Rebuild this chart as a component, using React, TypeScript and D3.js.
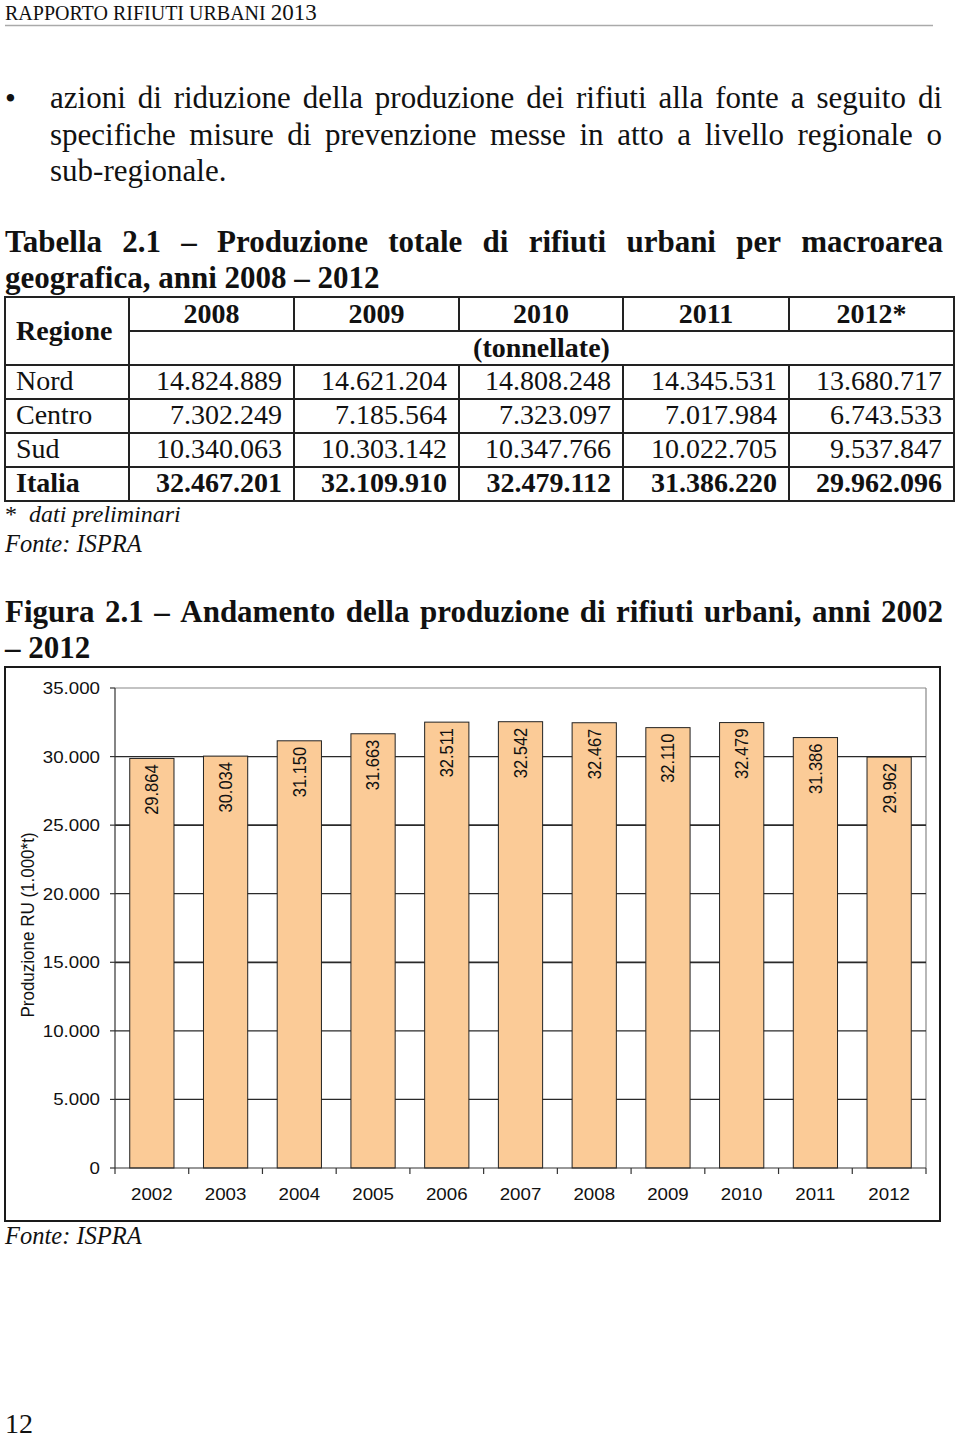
import React, { useEffect, useRef } from "react";
import * as d3 from "d3";

// ---- chart data ----
const years = ["2002", "2003", "2004", "2005", "2006", "2007", "2008", "2009", "2010", "2011", "2012"];
const production = [29864, 30034, 31150, 31663, 32511, 32542, 32467, 32110, 32479, 31386, 29962];
const yTicks = [0, 5000, 10000, 15000, 20000, 25000, 30000, 35000];

// ---- table data ----
const tableYears = ["2008", "2009", "2010", "2011", "2012*"];
const regions = ["Nord", "Centro", "Sud", "Italia"];
const nord = [14824889, 14621204, 14808248, 14345531, 13680717];
const centro = [7302249, 7185564, 7323097, 7017984, 6743533];
const sud = [10340063, 10303142, 10347766, 10022705, 9537847];
const italia = [32467201, 32109910, 32479112, 31386220, 29962096];

const bulletLines = [
  "azioni di riduzione della produzione dei rifiuti alla fonte a seguito di",
  "specifiche misure di prevenzione messe in atto a livello regionale o",
];
const bulletLast = "sub-regionale.";
const tableTitle1 = "Tabella 2.1 – Produzione totale di rifiuti urbani per macroarea";
const tableTitle2 = "geografica, anni 2008 – 2012";
const figTitle1 = "Figura 2.1 – Andamento della produzione di rifiuti urbani, anni 2002";
const figTitle2 = "– 2012";

const it = d3.formatLocale({ decimal: ",", thousands: ".", grouping: [3], currency: ["", "€"] });
const fmt = it.format(",d");

const SERIF = "'Liberation Serif', 'Times New Roman', serif";
const SANS = "'Liberation Sans', Arial, sans-serif";
const BODY = 31;

export default function App() {
  const ref = useRef<SVGSVGElement | null>(null);

  useEffect(() => {
    const svg = d3.select(ref.current);
    svg.selectAll("*").remove();

    // ---------- page header ----------
    const hdr = svg.append("text").attr("x", 5).attr("y", 20).attr("font-family", SERIF).attr("fill", "#111");
    hdr.append("tspan").attr("font-size", 20).text("RAPPORTO RIFIUTI URBANI ");
    hdr.append("tspan").attr("font-size", 23).text("2013");
    svg.append("line").attr("x1", 5).attr("x2", 933).attr("y1", 25.5).attr("y2", 25.5)
      .attr("stroke", "#aaa").attr("stroke-width", 1.5);

    // justified line helper
    const justify = (line: string, x0: number, x1: number, yb: number, size: number, weight: string) => {
      const words = line.split(" ");
      const g = svg.append("g").attr("font-family", SERIF).attr("font-size", size)
        .attr("font-weight", weight).attr("fill", "#111");
      const nodes = words.map((w) => g.append("text").attr("y", yb).text(w));
      const widths = nodes.map((n) => (n.node() as SVGTextElement).getComputedTextLength());
      const total = d3.sum(widths);
      const gap = words.length > 1 ? (x1 - x0 - total) / (words.length - 1) : 0;
      let cx = x0;
      nodes.forEach((n, i) => {
        n.attr("x", cx);
        cx += widths[i] + gap;
      });
    };
    const plain = (x: number, yb: number, s: string, size: number, weight = "normal", style = "normal") =>
      svg.append("text").attr("x", x).attr("y", yb).attr("font-family", SERIF).attr("font-size", size)
        .attr("font-weight", weight).attr("font-style", style).attr("fill", "#111").text(s);

    // ---------- bullet ----------
    plain(5, 109, "•", BODY);
    justify(bulletLines[0], 50, 942, 108, BODY, "normal");
    justify(bulletLines[1], 50, 942, 145, BODY, "normal");
    plain(50, 181, bulletLast, BODY);

    // ---------- table title ----------
    justify(tableTitle1, 5, 943, 252, BODY, "bold");
    plain(5, 288, tableTitle2, BODY, "bold");

    // ---------- table ----------
    const colX = [5, 129, 294, 459, 623, 789, 954];
    const rowY = [297, 331, 365, 399, 433, 467, 501];
    const tg = svg.append("g");
    const ls = "#222";
    const lw = 2;
    tg.append("rect").attr("x", colX[0]).attr("y", rowY[0]).attr("width", colX[6] - colX[0])
      .attr("height", rowY[6] - rowY[0]).attr("fill", "none").attr("stroke", ls).attr("stroke-width", lw);
    tg.append("line").attr("x1", colX[1]).attr("x2", colX[6]).attr("y1", rowY[1]).attr("y2", rowY[1])
      .attr("stroke", ls).attr("stroke-width", lw);
    [2, 3, 4, 5].forEach((r) => {
      tg.append("line").attr("x1", colX[0]).attr("x2", colX[6]).attr("y1", rowY[r]).attr("y2", rowY[r])
        .attr("stroke", ls).attr("stroke-width", lw);
    });
    tg.append("line").attr("x1", colX[1]).attr("x2", colX[1]).attr("y1", rowY[0]).attr("y2", rowY[6])
      .attr("stroke", ls).attr("stroke-width", lw);
    [2, 3, 4, 5].forEach((c) => {
      tg.append("line").attr("x1", colX[c]).attr("x2", colX[c]).attr("y1", rowY[0]).attr("y2", rowY[1])
        .attr("stroke", ls).attr("stroke-width", lw);
      tg.append("line").attr("x1", colX[c]).attr("x2", colX[c]).attr("y1", rowY[2]).attr("y2", rowY[6])
        .attr("stroke", ls).attr("stroke-width", lw);
    });
    const tt = (x: number, y: number, s: string, anchor: string, bold: boolean) =>
      tg.append("text").attr("x", x).attr("y", y).attr("text-anchor", anchor)
        .attr("font-family", SERIF).attr("font-size", 28).attr("font-weight", bold ? "bold" : "normal")
        .attr("fill", "#111").text(s);
    tt(16, 340, "Regione", "start", true);
    tableYears.forEach((y, i) => tt((colX[i + 1] + colX[i + 2]) / 2, 323, y, "middle", true));
    tt((colX[1] + colX[6]) / 2, 357, "(tonnellate)", "middle", true);
    const rows = [nord, centro, sud, italia];
    rows.forEach((vals, r) => {
      const bold = r === 3;
      const yb = rowY[r + 2] + 25;
      tt(16, yb, regions[r], "start", bold);
      vals.forEach((v, c) => tt(colX[c + 2] - 12, yb, fmt(v), "end", bold));
    });
    const star = plain(5, 522, "*", 24);
    star.append("tspan").attr("dx", 12).attr("font-style", "italic").text("dati preliminari");
    plain(5, 552, "Fonte: ISPRA", 24.5, "normal", "italic");

    // ---------- figure title ----------
    justify(figTitle1, 5, 943, 622, BODY, "bold");
    plain(5, 658, figTitle2, BODY, "bold");

    // ---------- chart ----------
    const cg = svg.append("g");
    cg.append("rect").attr("x", 5).attr("y", 667).attr("width", 935).attr("height", 554)
      .attr("fill", "#fff").attr("stroke", "#1a1a1a").attr("stroke-width", 2);

    const left = 115, right = 926, top = 688, bottom = 1168;
    const x = d3.scaleBand<string>().domain(years).range([left, right]).paddingInner(0.4).paddingOuter(0.2);
    const y = d3.scaleLinear().domain([0, 35000]).range([bottom, top]);
    const step = x.step();
    const sx = 1.17;

    // plot border (right gray)
    cg.append("line").attr("x1", right).attr("x2", right).attr("y1", top).attr("y2", bottom)
      .attr("stroke", "#888").attr("stroke-width", 1.2);
    // gridlines
    yTicks.filter((t) => t > 0).forEach((t) => {
      cg.append("line").attr("x1", left).attr("x2", right).attr("y1", y(t)).attr("y2", y(t))
        .attr("stroke", t === 35000 ? "#888" : "#2a2a2a").attr("stroke-width", t === 25000 || t === 15000 ? 1.8 : 1.2);
    });
    // y ticks and labels
    yTicks.forEach((t) => {
      cg.append("line").attr("x1", left - 5).attr("x2", left).attr("y1", y(t)).attr("y2", y(t))
        .attr("stroke", "#333").attr("stroke-width", 1.2);
      cg.append("text").attr("transform", `translate(100,${y(t) + 6}) scale(${sx},1)`)
        .attr("text-anchor", "end").attr("font-family", SANS).attr("font-size", 16).attr("fill", "#111")
        .text(t === 0 ? "0" : fmt(t));
    });
    // bars
    years.forEach((yr, i) => {
      const v = production[i];
      cg.append("rect").attr("x", x(yr)!).attr("y", y(v)).attr("width", x.bandwidth())
        .attr("height", y(0) - y(v)).attr("fill", "#FBCB97").attr("stroke", "#222").attr("stroke-width", 1);
      cg.append("text")
        .attr("transform", `translate(${x(yr)! + x.bandwidth() / 2},${y(v) + 6}) scale(1.08,1) rotate(-90)`)
        .attr("text-anchor", "end").attr("dy", "0.36em").attr("font-family", SANS).attr("font-size", 16.5)
        .attr("fill", "#111").text(fmt(v));
      cg.append("text").attr("transform", `translate(${x(yr)! + x.bandwidth() / 2},1200) scale(${sx},1)`)
        .attr("text-anchor", "middle").attr("font-family", SANS).attr("font-size", 16).attr("fill", "#111")
        .text(yr);
    });
    // axes
    cg.append("line").attr("x1", left).attr("x2", left).attr("y1", top).attr("y2", bottom)
      .attr("stroke", "#333").attr("stroke-width", 1.2);
    cg.append("line").attr("x1", left).attr("x2", right).attr("y1", bottom).attr("y2", bottom)
      .attr("stroke", "#333").attr("stroke-width", 1.2);
    d3.range(years.length + 1).forEach((k) => {
      const tx = left + k * step;
      cg.append("line").attr("x1", tx).attr("x2", tx).attr("y1", bottom).attr("y2", bottom + 6)
        .attr("stroke", "#333").attr("stroke-width", 1.2);
    });
    // y title
    cg.append("text").attr("transform", `translate(27,925) scale(1.1,1) rotate(-90)`)
      .attr("text-anchor", "middle").attr("dy", "0.36em").attr("font-family", SANS).attr("font-size", 17)
      .attr("fill", "#111").text("Produzione RU (1.000*t)");

    plain(5, 1244, "Fonte: ISPRA", 24.5, "normal", "italic");

    // page number
    plain(5, 1433, "12", 28);
  }, []);

  return (
    <svg
      ref={ref}
      width={960}
      height={1440}
      style={{ position: "absolute", left: 0, top: 0, background: "#fff" }}
    />
  );
}
